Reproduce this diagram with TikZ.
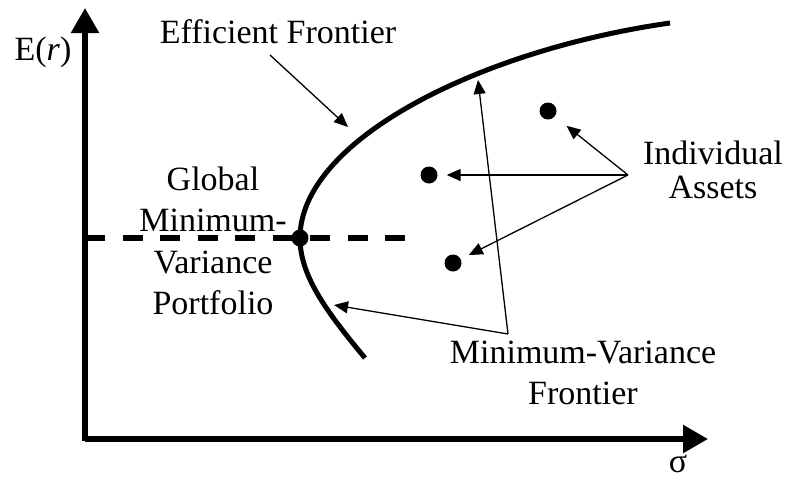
\documentclass[tikz,border=0pt]{standalone}
\usepackage{fontspec}
\setmainfont{Liberation Serif}
\usetikzlibrary{arrows.meta}

\begin{document}
\begin{tikzpicture}[x=1pt,y=-1pt,
	axis/.style={line width=5.5pt,-{Triangle[length=25pt,width=27pt]}},
	pointer/.style={line width=1.3pt,-{Triangle[length=14pt,width=12pt]}},
	asset/.style={circle,fill=black,inner sep=0pt,minimum size=17pt},
	txt/.style={align=center,inner sep=0pt,font=\fontsize{34}{34}\selectfont}]
		\useasboundingbox (0,0) rectangle (791,479);
		% axes
		\coordinate (origin) at (85,439);
		\draw[axis] (85,441) -- (85,8) coordinate (ytip);
		\draw[axis] (origin) -- (708,439) coordinate (xtip);
		\node[txt,anchor=base] (er) at (43,60) {E(\textit{r})};
		\node[txt] (sigma) at (678,464) {σ};
		% frontier
		\coordinate (gmv) at (300,238);
		\draw[line width=5pt] (365,358) .. controls (325,310) and (300,275) .. (gmv)
			.. controls (300,140) and (480,50) .. (670,23);
		\draw[line width=5.5pt,dash pattern=on 20pt off 17.5pt] (85,238) -- (405,238);
		\node[asset] (gmvdot) at (gmv) {};
		% assets
		\node[asset] (a1) at (548,111) {};
		\node[asset] (a2) at (429,175) {};
		\node[asset] (a3) at (453,263) {};
		% labels
		\node[txt,anchor=base] (eff) at (278,43) {Efficient Frontier};
		\node[txt] (ind) at (713,170) {Individual\\Assets};
		\node[txt,font=\fontsize{34}{41}\selectfont] (mvf) at (583,373) {Minimum-Variance\\Frontier};
		\node[txt,font=\fontsize{34}{41.5}\selectfont] (glob) at (213,241) {Global\\Minimum-\\Variance\\Portfolio};
		% pointers
		\coordinate (efffrom) at (270,55);
		\coordinate (effto) at (348,127);
		\coordinate (indfrom) at (628,175);
		\coordinate (mvffrom) at (508,334);
		\coordinate (mvfup) at (478,80);
		\coordinate (mvflow) at (334,305);
		\draw[pointer] (efffrom) -- (effto);
		\draw[pointer,shorten >=15pt] (indfrom) -- (a1);
		\draw[pointer,shorten >=9pt] (indfrom) -- (a2);
		\draw[pointer,shorten >=9pt] (indfrom) -- (a3);
		\draw[pointer] (mvffrom) -- (mvfup);
		\draw[pointer] (mvffrom) -- (mvflow);
	\end{tikzpicture}
\end{document}
